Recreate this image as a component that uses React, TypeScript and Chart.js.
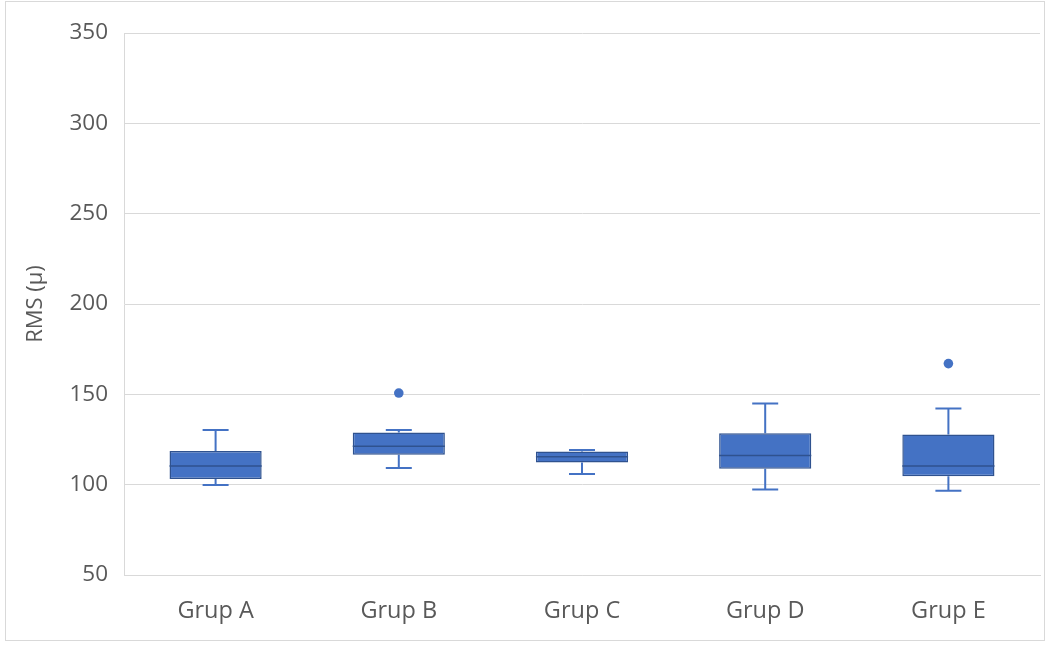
import React, { useEffect, useRef } from "react";
import { Chart, registerables } from "chart.js";

Chart.register(...registerables);

// Box-plot statistics per group
const groups = ["Grup A", "Grup B", "Grup C", "Grup D", "Grup E"];
const whiskerLow = [99.8, 109.2, 105.9, 97.3, 96.7];
const quartile1 = [103.1, 116.5, 112.3, 108.8, 104.6];
const medians = [110.4, 121.3, 115.5, 116.1, 110.4];
const quartile3 = [118.7, 128.9, 118.3, 128.4, 127.8];
const whiskerHigh = [130.2, 130.2, 119.2, 144.9, 142.1];
const outliers: (number | null)[] = [null, 150.7, null, null, 167];

const yTicks = [50, 100, 150, 200, 250, 300, 350];

const BOX_FILL = "#4472C4";
const BOX_EDGE = "#2F528F";
const TEXT = "#595959";
const GRID = "#D9D9D9";

// Whiskers (behind boxes) and medians (on top of boxes)
const boxPlotPlugin = {
  id: "boxPlotParts",
  beforeDatasetsDraw(chart: any) {
    const { ctx, scales } = chart;
    const x = scales.x;
    const y = scales.y;
    ctx.save();
    ctx.strokeStyle = BOX_FILL;
    ctx.lineWidth = 2;
    const cap = 13;
    groups.forEach((_, i) => {
      const cx = x.getPixelForValue(i);
      const lo = y.getPixelForValue(whiskerLow[i]);
      const hi = y.getPixelForValue(whiskerHigh[i]);
      const q1 = y.getPixelForValue(quartile1[i]);
      const q3 = y.getPixelForValue(quartile3[i]);
      ctx.beginPath();
      ctx.moveTo(cx, q3);
      ctx.lineTo(cx, hi);
      ctx.moveTo(cx - cap, hi);
      ctx.lineTo(cx + cap, hi);
      ctx.moveTo(cx, q1);
      ctx.lineTo(cx, lo);
      ctx.moveTo(cx - cap, lo);
      ctx.lineTo(cx + cap, lo);
      ctx.stroke();
    });
    ctx.restore();
  },
  afterDatasetsDraw(chart: any) {
    const { ctx, scales } = chart;
    const x = scales.x;
    const y = scales.y;
    const meta = chart.getDatasetMeta(0);
    ctx.save();
    ctx.strokeStyle = BOX_EDGE;
    ctx.lineWidth = 1.5;
    groups.forEach((_, i) => {
      const bar = meta.data[i];
      const half = bar.width / 2;
      const cx = x.getPixelForValue(i);
      const m = y.getPixelForValue(medians[i]);
      ctx.beginPath();
      ctx.moveTo(cx - half, m);
      ctx.lineTo(cx + half, m);
      ctx.stroke();
    });
    ctx.restore();
  },
};

export default function App() {
  const canvasRef = useRef<HTMLCanvasElement | null>(null);

  useEffect(() => {
    document.body.style.margin = "0";
    const canvas = canvasRef.current;
    if (!canvas) return;
    const chart = new Chart(canvas, {
      type: "bar",
      data: {
        labels: groups,
        datasets: [
          {
            type: "bar",
            data: groups.map((_, i) => [quartile1[i], quartile3[i]]) as any,
            backgroundColor: BOX_FILL,
            borderColor: BOX_EDGE,
            borderWidth: 1.5,
            borderSkipped: false,
            barPercentage: 0.503,
            categoryPercentage: 1,
          },
          {
            type: "line",
            data: outliers as any,
            showLine: false,
            pointRadius: 4.8,
            pointBackgroundColor: BOX_FILL,
            pointBorderColor: BOX_FILL,
            pointBorderWidth: 0,
          } as any,
        ],
      },
      options: {
        animation: false,
        responsive: false,
        maintainAspectRatio: false,
        layout: { padding: { top: 33, right: 12, left: 0, bottom: 0 } },
        plugins: {
          legend: { display: false },
          tooltip: { enabled: false },
        },
        scales: {
          x: {
            grid: { display: false, drawTicks: false },
            border: { display: true, color: GRID, width: 1 },
            ticks: {
              color: TEXT,
              padding: 22,
              font: { family: "'Open Sans'", size: 23.5 },
            },
            afterFit(scale: any) {
              scale.height = 71;
            },
          },
          y: {
            min: 50,
            max: 350,
            afterBuildTicks(scale: any) {
              scale.ticks = yTicks.map((v) => ({ value: v }));
            },
            grid: { color: GRID, lineWidth: 1, drawTicks: false },
            border: { display: true, color: GRID, width: 1 },
            ticks: {
              color: TEXT,
              padding: 16,
              font: { family: "'Open Sans'", size: 22.5 },
            },
            title: {
              display: true,
              text: "RMS (µ)",
              color: TEXT,
              padding: { top: 23, bottom: 0 },
              font: { family: "'Open Sans'", size: 22 },
            },
            afterFit(scale: any) {
              scale.width = 124;
            },
          },
        },
      },
      plugins: [boxPlotPlugin],
    });
    return () => chart.destroy();
  }, []);

  return (
    <div style={{ position: "relative", width: 1052, height: 646, background: "#fff" }}>
      <div
        style={{
          position: "absolute",
          left: 5,
          top: 1,
          width: 1040,
          height: 640,
          border: "1px solid #D9D9D9",
          boxSizing: "border-box",
        }}
      />
      <canvas
        ref={canvasRef}
        width={1052}
        height={646}
        style={{ position: "absolute", left: 0, top: 0, width: 1052, height: 646 }}
      />
    </div>
  );
}
